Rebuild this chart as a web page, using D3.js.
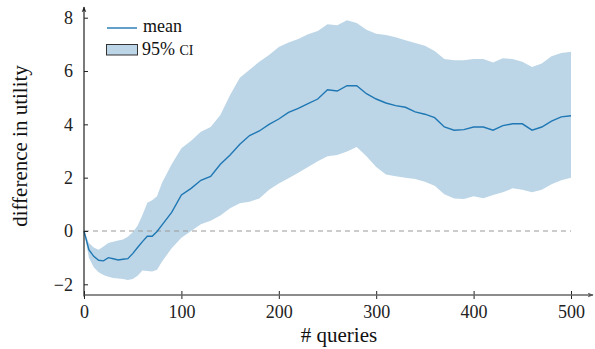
<!DOCTYPE html>
<html>
<head>
<meta charset="utf-8">
<script src="https://cdn.jsdelivr.net/npm/d3@7/dist/d3.min.js"></script>
<style>
  body { margin: 0; background: #fff; }
  svg { display: block; font-family: "Liberation Serif", "DejaVu Serif", serif; }
</style>
</head>
<body>
<svg id="chart"></svg>
<script>
// number of queries where values were read
var queries = [0, 5, 10, 15, 20, 25, 30, 35, 40, 45, 50, 55, 60, 65, 70, 75, 80,
  90, 100, 110, 120, 130, 140, 150, 160, 170, 180, 190, 200, 210, 220, 230, 240,
  250, 260, 270, 280, 290, 300, 310, 320, 330, 340, 350, 360, 370, 380, 390, 400,
  410, 420, 430, 440, 450, 460, 470, 480, 490, 500];
var meanValues = [0, -0.7, -0.95, -1.1, -1.12, -1.0, -1.04, -1.09, -1.06, -1.04, -0.85, -0.62, -0.4, -0.2, -0.2, -0.02, 0.22,
  0.7, 1.35, 1.6, 1.9, 2.05, 2.5, 2.85, 3.25, 3.58, 3.75, 4.0, 4.2, 4.45, 4.6, 4.78, 4.95,
  5.3, 5.25, 5.45, 5.45, 5.15, 4.95, 4.8, 4.7, 4.64, 4.47, 4.38, 4.25, 3.9, 3.78, 3.8, 3.9,
  3.9, 3.78, 3.95, 4.02, 4.02, 3.78, 3.9, 4.12, 4.28, 4.32];
var upperValues = [0, -0.45, -0.62, -0.7, -0.58, -0.45, -0.4, -0.36, -0.32, -0.22, -0.05, 0.2, 0.6, 1.06, 1.15, 1.3, 1.8,
  2.5, 3.1, 3.38, 3.72, 3.9, 4.35, 5.1, 5.75, 6.05, 6.35, 6.6, 6.9, 7.07, 7.2, 7.38, 7.5,
  7.75, 7.72, 7.9, 7.8, 7.55, 7.4, 7.35, 7.27, 7.15, 7.05, 6.95, 6.75, 6.45, 6.4, 6.4, 6.45,
  6.45, 6.32, 6.48, 6.45, 6.35, 6.15, 6.28, 6.55, 6.68, 6.72];
var lowerValues = [0, -1.0, -1.36, -1.55, -1.65, -1.72, -1.76, -1.78, -1.8, -1.84, -1.8, -1.68, -1.48, -1.5, -1.52, -1.45, -1.15,
  -0.65, -0.25, 0.0, 0.25, 0.38, 0.58, 0.85, 1.04, 1.1, 1.22, 1.55, 1.78, 1.98, 2.18, 2.4, 2.62,
  2.8, 2.85, 2.98, 3.15, 2.8, 2.4, 2.12, 2.05, 2.0, 1.95, 1.85, 1.7, 1.38, 1.22, 1.2, 1.3,
  1.23, 1.35, 1.45, 1.6, 1.55, 1.45, 1.55, 1.75, 1.9, 2.0];
var xTicks = [0, 100, 200, 300, 400, 500];
var yTicks = [-2, 0, 2, 4, 6, 8];

var width = 595, height = 349;
var svg = d3.select("#chart").attr("width", width).attr("height", height);

var x = d3.scaleLinear().domain([0, 500]).range([84, 571]);
var y = d3.scaleLinear().domain([-2, 8]).range([284.3, 17.7]);
var axisY = 295;

var data = queries.map(function (q, i) {
  return { q: q, mean: meanValues[i], lo: lowerValues[i], hi: upperValues[i] };
});

// confidence band
var area = d3.area()
  .x(function (d) { return x(d.q); })
  .y0(function (d) { return y(d.lo); })
  .y1(function (d) { return y(d.hi); });
svg.append("path").datum(data)
  .attr("d", area)
  .attr("fill", "#bcd6e7");

// zero line
svg.append("line")
  .attr("x1", x(0)).attr("x2", x(500))
  .attr("y1", y(0)).attr("y2", y(0))
  .attr("stroke", "#9a9a9a").attr("stroke-width", 1.2)
  .attr("stroke-dasharray", "5,4");

// mean line
var line = d3.line()
  .x(function (d) { return x(d.q); })
  .y(function (d) { return y(d.mean); });
svg.append("path").datum(data)
  .attr("d", line)
  .attr("fill", "none")
  .attr("stroke", "#1f77b4")
  .attr("stroke-width", 1.4);

// axes
var xAxis = svg.append("g")
  .attr("transform", "translate(0," + axisY + ")")
  .call(d3.axisBottom(x).tickValues(xTicks).tickSize(4).tickPadding(6));
xAxis.select(".domain").remove();
xAxis.selectAll(".tick line").attr("y1", -4).attr("stroke", "#222");
xAxis.selectAll(".tick text")
  .attr("font-family", "Liberation Serif, serif").attr("font-size", 18).attr("fill", "#222");

var yAxis = svg.append("g")
  .attr("transform", "translate(" + x(0) + ",0)")
  .call(d3.axisLeft(y).tickValues(yTicks).tickSize(4).tickPadding(7)
    .tickFormat(function (d) { return d < 0 ? "\u2212" + Math.abs(d) : d; }));
yAxis.select(".domain").remove();
yAxis.selectAll(".tick line").attr("x2", 4).attr("stroke", "#222");
yAxis.selectAll(".tick text")
  .attr("font-family", "Liberation Serif, serif").attr("font-size", 18).attr("fill", "#222");

// axis lines with arrows
var defs = svg.append("defs");
function arrow(id, color) {
  defs.append("marker").attr("id", id)
    .attr("viewBox", "0 0 10 10").attr("refX", 9).attr("refY", 5)
    .attr("markerWidth", 6).attr("markerHeight", 6).attr("orient", "auto")
    .attr("markerUnits", "userSpaceOnUse")
    .append("path").attr("d", "M0,1 L10,5 L0,9 L3,5 Z").attr("fill", color);
}
arrow("arrX", "#555");
arrow("arrY", "#222");
svg.append("line")
  .attr("x1", x(0)).attr("x2", 593).attr("y1", axisY).attr("y2", axisY)
  .attr("stroke", "#666").attr("stroke-width", 1.3)
  .attr("marker-end", "url(#arrX)");
svg.append("line")
  .attr("x1", x(0)).attr("x2", x(0)).attr("y1", axisY + 1.5).attr("y2", 7)
  .attr("stroke", "#222").attr("stroke-width", 1.2)
  .attr("marker-end", "url(#arrY)");

// axis titles
svg.append("text")
  .attr("x", 339).attr("y", 342)
  .attr("text-anchor", "middle").attr("font-size", 21).attr("fill", "#111")
  .text("# queries");
svg.append("text")
  .attr("transform", "translate(27,146) rotate(-90)")
  .attr("text-anchor", "middle").attr("font-size", 21).attr("fill", "#111")
  .text("difference in utility");

// legend
var legend = svg.append("g");
legend.append("line")
  .attr("x1", 107).attr("x2", 137).attr("y1", 28).attr("y2", 28)
  .attr("stroke", "#1f77b4").attr("stroke-width", 1.4);
legend.append("text")
  .attr("x", 143).attr("y", 32).attr("font-size", 18).attr("fill", "#111")
  .text("mean");
legend.append("rect")
  .attr("x", 106.5).attr("y", 44.5).attr("width", 31).attr("height", 10.5)
  .attr("fill", "#bcd6e7").attr("stroke", "#333").attr("stroke-width", 1);
var ciText = legend.append("text")
  .attr("x", 142).attr("y", 55).attr("font-size", 18).attr("fill", "#111");
ciText.append("tspan").text("95% ");
ciText.append("tspan").attr("font-size", 14).text("CI");
</script>
</body>
</html>
